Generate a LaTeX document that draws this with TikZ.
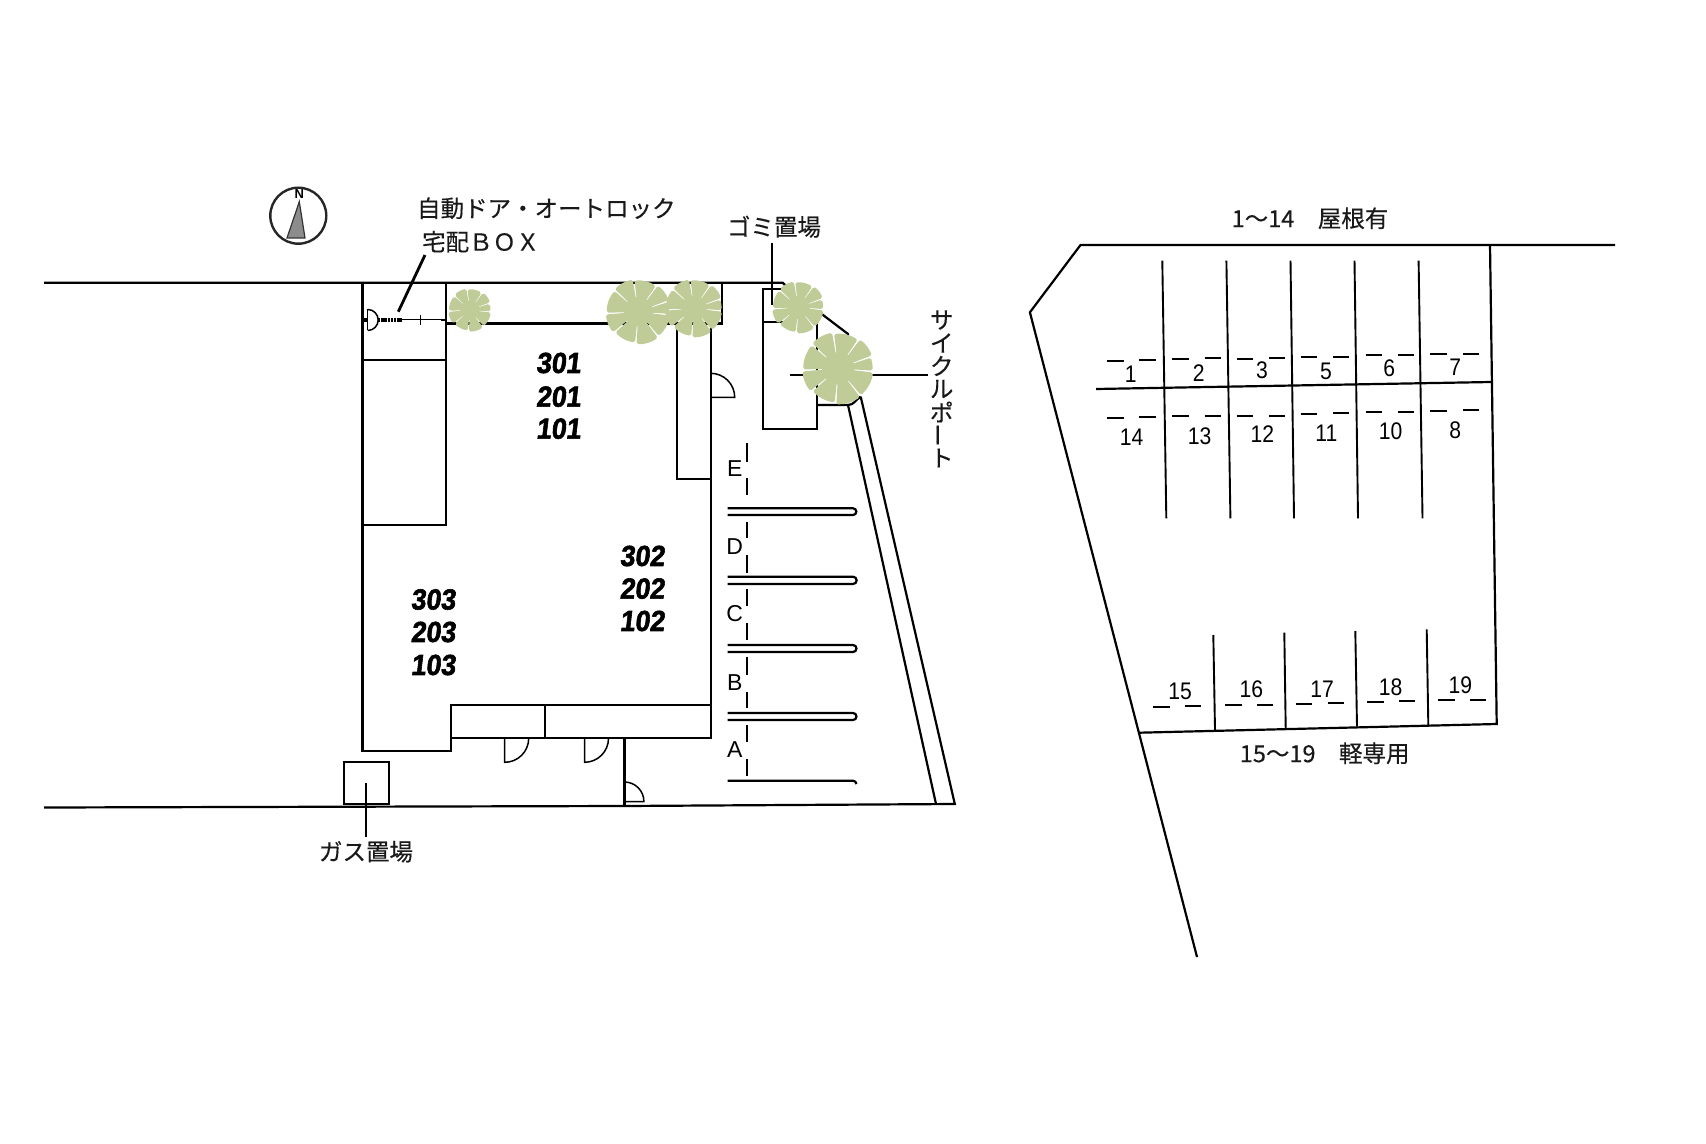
\documentclass[tikz,border=0pt]{standalone}
\usepackage{fontspec}
\setmainfont{Liberation Sans}
\newfontfamily\jp[FakeBold=0.35]{Noto Sans CJK JP}
\newfontfamily\digf[FakeStretch=0.88]{Liberation Sans}
\newfontfamily\roomf[FakeBold=2,FakeSlant=0.12,FakeStretch=0.92]{Liberation Sans Bold}
\definecolor{treec}{HTML}{BFCC98}
\newcommand{\treeat}[3]{%
  \fill[treec] (#1,#2) circle ({#3*0.45});
  \foreach \a/\b/\f in {7/50/0.97,53/93/1,96/138/0.95,141/175/1,178/221/0.97,224/260/1,263/304/0.96,307/339/1,342/364/0.95}{
    \fill[treec,rounded corners=0.9pt] (#1,#2) -- ++(\a:{#3*\f}) arc (\a:\b:{#3*\f}) -- cycle;
  }
}
\tikzset{
  wall/.style={draw=black,line width=1.1pt,line join=miter},
  thinl/.style={draw=black,line width=0.75pt},
  dsh/.style={draw=black,line width=0.9pt},
  jplabel/.style={font=\jp\fontsize{11.75}{13}\selectfont,inner sep=0pt,text=black!90},
  room/.style={font=\roomf\fontsize{14.5}{16}\selectfont,inner sep=0pt},
  letter/.style={font=\fontsize{11.5}{13}\selectfont,inner sep=0pt},
  spot/.style={font=\digf\fontsize{12}{13}\selectfont,inner sep=0pt}
}
\begin{document}
\begin{tikzpicture}[x=0.5pt,y=-0.5pt]
\useasboundingbox (0,0) rectangle (1706,1144);
% north mark
\draw[line width=1.2pt,draw=black!85] (298.3,215.7) circle (28);
\filldraw[fill=black!45,draw=black!80,line width=0.6pt] (299.3,201.7) -- (287,238) -- (305,238) -- cycle;
\node[inner sep=0pt,font=\bfseries\fontsize{6.5}{7}\selectfont] (north) at (299.3,194) {N};
% roads
\draw[wall] (44,282.7) -- (782.7,282.7) -- (790,290);
\draw[wall] (44,807.5) -- (624,806) -- (954.8,804) -- (860.7,396.7);
\draw[wall] (936,804) -- (848,405);
% entrance block
\draw[wall] (362.5,282.7) -- (362.5,751.3) -- (451,751.3) -- (451,705) -- (710.7,705);
\draw[wall] (710.7,323) -- (710.7,738.3) -- (451,738.3);
\draw[wall] (446,282.7) -- (446,524.6) -- (362.5,524.6);
\draw[wall] (362.5,359.7) -- (446,359.7);
\draw[wall] (446,323.5) -- (722,323.5) -- (722,282.7);
\draw[wall] (676.7,323.5) -- (676.7,478.7) -- (710.7,478.7);
\draw[wall] (545,705) -- (545,738.3);
\draw[wall] (624.4,738.3) -- (624.4,806);
% auto door
\draw[draw=black,line width=1.6pt,dash pattern=on 1.2pt off 0.4pt] (378,320) -- (401.7,320);
\draw[draw=black,line width=1.6pt] (362.5,320) -- (368,320);
\draw[thinl,line width=0.5pt] (401.7,320) -- (446,320);
\draw[draw=black,line width=1.4pt] (441,320) -- (446,320);
\draw[thinl,line width=0.5pt] (420,315) -- (420,325);
\draw[thinl] (367.7,309.5) -- (367.7,330.5);
\draw[thinl] (367.7,309.5) arc (-90:90:10.5);
% doors
\draw[thinl] (710.7,373.3) arc (-90:0:24) -- (710.7,397.3);
\draw[thinl] (504.7,738.3) -- (504.7,762.3) arc (90:0:24);
\draw[thinl] (584.5,738.3) -- (584.5,762.3) arc (90:0:24);
\draw[thinl] (624.4,782) arc (-90:0:19.5) -- (624.4,801.5);
% gas box
\draw[wall] (344.2,761.7) rectangle (389,804);
\draw[wall,line width=0.9pt] (366.3,782.7) -- (366.3,836.7);
% trash and cycle port
\draw[wall] (782,289.3) -- (763.3,289.3) -- (763.3,429.3) -- (816.7,429.3) -- (816.7,315);
\draw[wall] (763.3,321.7) -- (785,321.7);
\draw[wall] (821.7,314) -- (848,334) -- (848,345);
\draw[wall] (816.7,405) -- (848,405) to[out=0,in=-150] (860.7,396.7);
\draw[wall,line width=0.9pt] (772,242.7) -- (772,305);
\draw[wall,line width=0.9pt] (790,375) -- (928,375);
% leader
\draw[line width=1.4pt] (425,255) -- (398.3,311.7);
% parking lines
\foreach \ya/\yb in {443.3/461.7,478.3/495,521.7/538.3,555/572.7,589/606,623.3/640,656.7/675,691.7/708.3,725/741.7,759/775.7}
  \draw[dsh] (747,\ya) -- (747,\yb);
\foreach \ya/\yb in {508.3/515,576.7/584,645/652,713/720}
  \draw[wall] (727.7,\ya) -- (853,\ya) arc (-90:90:{(\yb-\ya)/2}) -- (727.7,\yb);
\draw[wall] (727.7,780.7) -- (853,780.7) arc (-90:0:3.4);
% trees
\treeat{470}{310}{21.5}
\treeat{638.3}{311.7}{32.5}
\treeat{694}{308.3}{29}
\treeat{798.3}{307.3}{26}
\treeat{838.3}{368.3}{36}
% labels left
\node[jplabel,anchor=west] (autolock) at (416.7,208.3) {自動ドア・オートロック};
\node[jplabel,anchor=west] (box) at (421.7,241.7) {宅配ＢＯＸ};
\node[jplabel] (trash) at (774,226.7) {ゴミ置場};
\node[jplabel] (gas) at (366,851.7) {ガス置場};
\foreach \c/\y [count=\i] in {サ/320,イ/343,ク/366,ル/389,ポ/412,ー/435,ト/458}{
  \ifnum\i=6
    \node[jplabel,rotate=90] (cp\i) at (941.7,\y) {\c};
  \else
    \node[jplabel] (cp\i) at (941.7,\y) {\c};
  \fi
}
\node[letter] (le) at (734.7,468.3) {E};
\node[letter] (ld) at (734.7,546.7) {D};
\node[letter] (lc) at (734.7,613.3) {C};
\node[letter] (lb) at (734.7,682.7) {B};
\node[letter] (la) at (734.7,750) {A};
\foreach \x/\ya/\yb/\yc/\n in {558.3/363/396.7/428.7/1,642/556/588.6/621/2,433/599.5/632/665/3}{
  \node[room] (r3\n) at (\x,\ya) {30\n};
  \node[room] (r2\n) at (\x,\yb) {20\n};
  \node[room] (r1\n) at (\x,\yc) {10\n};
}
% right lot
\draw[wall] (1615,245) -- (1080.5,245) -- (1029.9,312.3) -- (1197,957);
\draw[wall] (1490,245) -- (1496.7,724) -- (1139.3,732.7);
\draw[wall] (1096,389) -- (1491.3,382);
\foreach \xa/\xb in {1162.3/1166.3,1226.4/1230.4,1290.5/1294,1354.5/1358,1418.6/1422.5}
  \draw[wall,line width=0.95pt] (\xa,260.7) -- (\xb,518.3);
\foreach \xa/\ya/\xb/\yb in {1213.3/635/1215/730,1284.3/632.7/1285.7/728.3,1355.3/631/1357/726.7,1426.7/629.3/1428.3/725}
  \draw[wall,line width=0.95pt] (\xa,\ya) -- (\xb,\yb);
% upper dashes
\foreach \xo/\ya/\yb/\yc/\yd in {1107/361/360/418/417,1172.2/358.7/358.3/415.7/415.7,1236.7/359/358.3/415.7/415.7,1300.7/357/356.7/414/413.3,1365.6/355.3/355/412/411.7,1430.4/354.3/353.7/410.7/410.3}{
  \draw[dsh] (\xo,\ya) -- ++(16.6,0);
  \draw[dsh] (\xo+32.4,\yb) -- ++(16.2,0);
  \draw[dsh] (\xo,\yc) -- ++(16.6,0);
  \draw[dsh] (\xo+32.4,\yd) -- ++(16.2,0);
}
\foreach \x/\y/\t in {1130.7/374/1,1198.7/373.3/2,1262/370.7/3,1326/371.3/5,1389.3/368.7/6,1455.3/367.3/7,1131.5/437.7/14,1199.5/436/13,1262.4/434/12,1326.4/433/11,1390.5/431.7/10,1455.3/430/8}
  \node[spot] (s\t) at (\x,\y) {\t};
% lower dashes
\foreach \xo/\ya/\yb in {1153.3/707/706.3,1225.3/705.3/705,1295.7/704.3/703.3,1367.3/702/701.3,1438.3/700.3/700}{
  \draw[dsh] (\xo,\ya) -- ++(16.5,0);
  \draw[dsh] (\xo+32,\yb) -- ++(16,0);
}
\foreach \x/\y/\t in {1180/691.3/15,1251.3/689/16,1322/689/17,1390.7/687.3/18,1460.3/685.7/19}
  \node[spot] (s\t) at (\x,\y) {\t};
\node[jplabel] (roof) at (1310,218.3) {1～14　屋根有};
\node[jplabel] (kei) at (1324.7,753.3) {15～19　軽専用};
\end{tikzpicture}
\end{document}
